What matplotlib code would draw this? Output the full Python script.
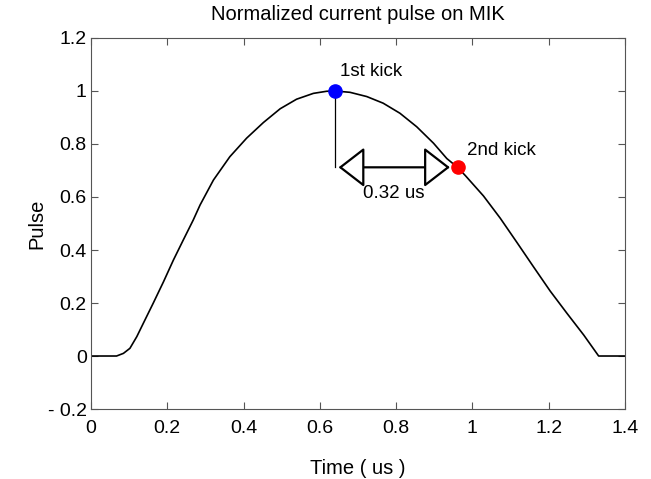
import matplotlib
matplotlib.use("Agg")
import matplotlib.pyplot as plt

plt.rcParams['font.family'] = ['Liberation Sans', 'DejaVu Sans']

# pulse shape
time = [0.0, 0.067, 0.085, 0.102, 0.120, 0.137, 0.163, 0.190, 0.216, 0.242,
        0.268, 0.286, 0.321, 0.364, 0.408, 0.452, 0.496, 0.539, 0.583, 0.618,
        0.64, 0.679, 0.723, 0.766, 0.810, 0.854, 0.898, 0.933, 0.961, 0.982,
        1.029, 1.073, 1.117, 1.160, 1.204, 1.248, 1.292, 1.331, 1.4]
pulse = [0.0, 0.0, 0.010, 0.029, 0.073, 0.123, 0.199, 0.280, 0.362, 0.438,
         0.513, 0.570, 0.664, 0.752, 0.822, 0.881, 0.933, 0.969, 0.991, 0.999,
         1.0, 0.995, 0.979, 0.954, 0.916, 0.865, 0.803, 0.745, 0.712, 0.680,
         0.604, 0.520, 0.428, 0.337, 0.245, 0.161, 0.079, 0.0, 0.0]

kick1 = (0.64, 1.0)
kick2 = (0.961, 0.712)
delay_label = "0.32 us"

yticks = [-0.2, 0, 0.2, 0.4, 0.6, 0.8, 1, 1.2]
ytick_labels = ['- 0.2', '0', '0.2', '0.4', '0.6', '0.8', '1', '1.2']
xticks = [0, 0.2, 0.4, 0.6, 0.8, 1, 1.2, 1.4]
xtick_labels = ['0', '0.2', '0.4', '0.6', '0.8', '1', '1.2', '1.4']

fig = plt.figure(figsize=(6.51, 4.79), dpi=100)
ax = fig.add_axes([0.1398, 0.1461, 0.8202, 0.7746])

ax.plot(time, pulse, color='black', lw=1.2)

# vertical drop from 1st kick to the level of the 2nd
ax.plot([kick1[0], kick1[0]], [kick1[1], kick2[1]], color='black', lw=0.9)

ax.annotate('', xy=(kick2[0], kick2[1]), xytext=(kick1[0], kick2[1]),
            arrowprops=dict(arrowstyle='<|-|>,head_length=1.1,head_width=0.85',
                            fc='white', ec='black', lw=1.6,
                            shrinkA=2.5, shrinkB=5.5, mutation_scale=15))

ax.plot(*kick1, 'o', color='#0000ff', ms=9.5, zorder=5)
ax.plot(*kick2, 'o', color='#ff0000', ms=9.5, zorder=5)

ax.text(kick1[0] + 0.013, kick1[1] + 0.073, '1st kick', fontsize=13.5,
        ha='left', va='center')
ax.text(kick2[0] + 0.024, kick2[1] + 0.063, '2nd kick', fontsize=13.5,
        ha='left', va='center')
ax.text((kick1[0] + kick2[0]) / 2 - 0.007, kick2[1] - 0.1, delay_label,
        fontsize=13.5, ha='center', va='center')

ax.set_xlim(0, 1.4)
ax.set_ylim(-0.2, 1.2)
ax.set_xticks(xticks)
ax.set_xticklabels(xtick_labels)
ax.set_yticks(yticks)
ax.set_yticklabels(ytick_labels)
ax.tick_params(direction='in', length=5, top=True, right=True,
               labelsize=14, color='#555555')
ax.tick_params(axis='x', pad=8)
ax.tick_params(axis='y', pad=3)
for sp in ax.spines.values():
    sp.set_color('#555555')

ax.set_title('Normalized current pulse on MIK', fontsize=14.5, pad=13)
ax.set_xlabel('Time ( us )', fontsize=14.5, labelpad=16)
ax.set_ylabel('Pulse', fontsize=14.5, labelpad=1)

fig.savefig('out.png', dpi=100)
